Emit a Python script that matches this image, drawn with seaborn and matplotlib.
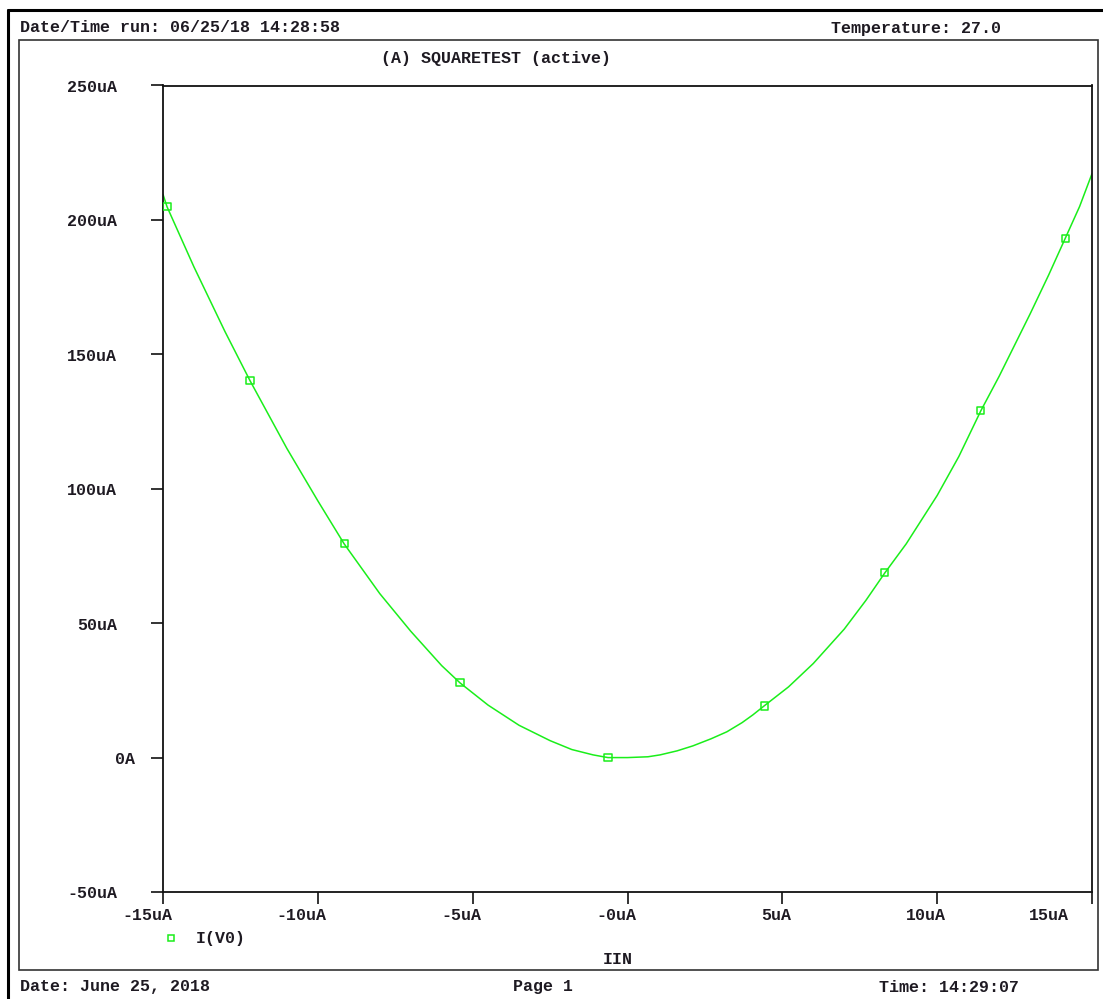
import numpy as np
import pandas as pd
import matplotlib
matplotlib.use("Agg")
import matplotlib.pyplot as plt
from matplotlib import transforms
from matplotlib.lines import Line2D
from matplotlib.patches import Rectangle
import seaborn as sns

# ---- data (currents in uA) ----
iin_uA = [-15.0, -14.87, -14.0, -13.0, -12.19, -11.0, -10.0, -9.15, -8.0, -7.0,
          -6.0, -5.41, -4.5, -3.5, -2.5, -1.8, -1.11, -0.63, 0.0, 0.66,
          1.05, 1.6, 2.11, 2.7, 3.21, 3.7, 4.05, 4.41, 5.2, 6.0,
          7.0, 7.7, 8.31, 9.0, 10.0, 10.7, 11.41, 12.0, 13.0, 13.6,
          14.13, 14.6, 15.0]
iv0_uA = [209.5, 204.9, 182.5, 158.5, 140.2, 115.0, 95.5, 79.5, 61.0, 47.0,
          34.2, 27.8, 19.5, 12.0, 6.3, 3.0, 1.0, 0.0, 0.0, 0.3,
          1.0, 2.5, 4.35, 7.0, 9.6, 13.0, 15.9, 19.2, 26.3, 35.0,
          47.8, 58.5, 68.7, 79.5, 97.5, 112.0, 129.0, 141.8, 165.0, 179.5,
          193.0, 205.0, 217.2]

# simulation points shown with symbols
mark_iin = [-14.87, -12.19, -9.15, -5.41, -0.63, 4.41, 8.31, 11.41, 14.13]
mark_iv0 = [204.9, 140.2, 79.5, 27.8, 0.0, 19.2, 68.7, 129.0, 193.0]

x_ticks = [-15, -10, -5, 0, 5, 10, 15]
x_tick_labels = ["-15uA", "-10uA", "-5uA", "-0uA", "5uA", "10uA", "15uA"]
y_ticks = [-50, 0, 50, 100, 150, 200, 250]
y_tick_labels = ["-50uA", "0A", "50uA", "100uA", "150uA", "200uA", "250uA"]

GREEN = "#1aee1a"
INK = "#1e1a22"
FONT = "Liberation Mono"
WEIGHT = "bold"

W, H = 1103, 999
DPI = 100

sns.set_style("white")
plt.rcParams["font.family"] = [FONT, "DejaVu Sans Mono"]
plt.rcParams["font.size"] = 12
plt.rcParams["font.weight"] = WEIGHT

fig = plt.figure(figsize=(W / DPI, H / DPI), dpi=DPI)
fig.patch.set_facecolor("white")


def fx(px):
    return px / W


def fy(py):
    return 1 - py / H


# plot area
ax_l, ax_r, ax_t, ax_b = 163, 1092, 85.5, 892
ax = fig.add_axes([fx(ax_l), fy(ax_b), fx(ax_r) - fx(ax_l), fy(ax_t) - fy(ax_b)])
ax.set_facecolor("white")

df = pd.DataFrame({"IIN": iin_uA, "I(V0)": iv0_uA})
sns.lineplot(data=df, x="IIN", y="I(V0)", sort=False, color=GREEN,
             linewidth=1.1, ax=ax, legend=False)
sns.scatterplot(x=mark_iin, y=mark_iv0, marker="s", s=26, facecolor="none",
                edgecolor=GREEN, linewidth=1.1, ax=ax, legend=False, zorder=3)

ax.set_xlim(-15, 15)
ax.set_ylim(-50, 250)
ax.set_xlabel("")
ax.set_ylabel("")
for sp in ax.spines.values():
    sp.set_visible(True)
    sp.set_color("#111111")
    sp.set_linewidth(1.3)

ax.set_xticks(x_ticks)
ax.set_yticks(y_ticks)
ax.tick_params(axis="both", direction="out", length=8.6, width=1.2,
               color="#111111", labelbottom=False, labelleft=False,
               bottom=True, left=True, top=False, right=False)
ax.grid(False)

# tick labels, placed PSpice-style next to the ticks
for t, lbl in zip(x_ticks, x_tick_labels):
    dx = -23 if t == x_ticks[-1] else 9
    tr = transforms.offset_copy(ax.transData, fig=fig, x=dx, y=-24, units="dots")
    ax.text(t, -50, lbl, transform=tr, ha="right", va="center",
            fontsize=12, color=INK, clip_on=False)
for v, lbl in zip(y_ticks, y_tick_labels):
    dx = -28 if lbl == "0A" else -46
    tr = transforms.offset_copy(ax.transData, fig=fig, x=dx, y=-2, units="dots")
    ax.text(-15, v, lbl, transform=tr, ha="right", va="center",
            fontsize=12, color=INK, clip_on=False)

# legend symbol and x-axis name
fig.add_artist(Line2D([fx(170.5)], [fy(938)], marker="s", markersize=5,
                      markerfacecolor="none", markeredgecolor=GREEN,
                      markeredgewidth=1.1, linestyle="none"))
fig.text(fx(196), fy(938), "I(V0)", ha="left", va="center", color=INK, fontsize=12)
fig.text(fx(603), fy(960), "IIN", ha="left", va="center", color=INK, fontsize=12)

# header / footer
fig.text(fx(20), fy(28), "Date/Time run: 06/25/18 14:28:58", ha="left",
         va="center", color=INK, fontsize=12)
fig.text(fx(831), fy(28), "Temperature: 27.0", ha="left", va="center",
         color=INK, fontsize=12)
fig.text(fx(381), fy(58), "(A) SQUARETEST (active)", ha="left", va="center",
         color=INK, fontsize=12)
fig.text(fx(20), fy(987), "Date: June 25, 2018", ha="left", va="center",
         color=INK, fontsize=12)
fig.text(fx(513), fy(987), "Page 1", ha="left", va="center",
         color=INK, fontsize=12)
fig.text(fx(879), fy(987), "Time: 14:29:07", ha="left", va="center",
         color=INK, fontsize=12)

# page frames
fig.add_artist(Rectangle((fx(19), fy(970)), fx(1098) - fx(19), fy(40) - fy(970),
                         transform=fig.transFigure, fill=False,
                         edgecolor="#333333", linewidth=1.2))
fig.add_artist(Line2D([fx(8), fx(1103)], [fy(10), fy(10)], color="black", linewidth=2.2))
fig.add_artist(Line2D([fx(8), fx(8)], [fy(10), fy(999)], color="black", linewidth=2.2))

fig.savefig("out.png", dpi=DPI, facecolor="white")
